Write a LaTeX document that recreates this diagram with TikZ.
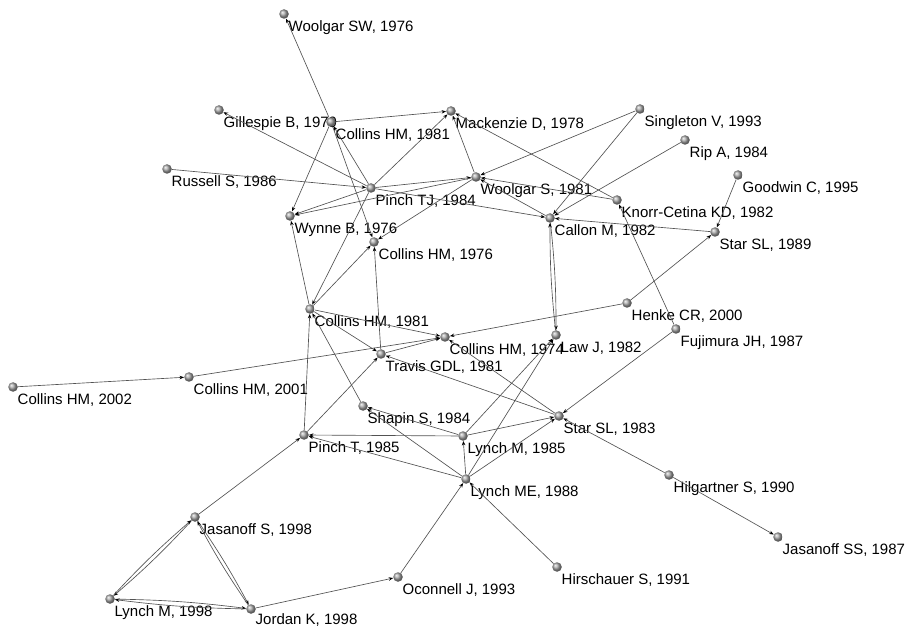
\documentclass[tikz,border=0pt]{standalone}
\usepackage{fontspec}
\setmainfont{Liberation Sans}
\usepackage{tikz}
\usetikzlibrary{
    arrows.meta
}

\begin{document}
\begin{tikzpicture}[x=1pt, y=-1pt,
        ball/.style={circle, inner sep=0pt, minimum size=9.5pt, shading=ball, ball color=gray!70},
        lbl/.style={anchor=north west, inner sep=0pt, xshift=1pt, yshift=-3pt,
                    font=\fontsize{15}{17}\selectfont},
        >={Stealth[length=4.5pt, width=3.5pt, black]},
        every edge/.style={draw=black!68, line width=0.65pt}]
                        \useasboundingbox (0, 0) rectangle (908, 628);

                        % upper part
                        \node[ball, label={[lbl]south east:Woolgar SW, 1976}] (wsw) at (284, 14) {};
                        \node[ball, label={[lbl]south east:Gillespie B, 1979}] (gil) at (219, 110) {};
                        \node[ball, label={[lbl]south east:Collins HM, 1981}] (c81a) at (331, 122) {};
                        \node[ball, label={[lbl]south east:Mackenzie D, 1978}] (mac) at (451, 111) {};
                        \node[ball, label={[lbl]south east:Russell S, 1986}] (rus) at (167, 169) {};
                        \node[ball, label={[lbl]south east:Pinch TJ, 1984}] (ptj) at (371, 188) {};
                        \node[ball, label={[lbl]south east:Wynne B, 1976}] (wyn) at (290, 216) {};
                        \node[ball, label={[lbl]south east:Woolgar S, 1981}] (ws) at (476, 177) {};
                        \node[ball, label={[lbl]south east:Singleton V, 1993}] (sin) at (640, 109) {};
                        \node[ball, label={[lbl]south east:Rip A, 1984}] (rip) at (685, 140) {};
                        \node[ball, label={[lbl]south east:Goodwin C, 1995}] (goo) at (738, 175) {};
                        \node[ball, label={[lbl]south east:Knorr-Cetina KD, 1982}] (kno) at (617, 200) {};
                        \node[ball, label={[lbl]south east:Callon M, 1982}] (cal) at (550, 218) {};
                        \node[ball, label={[lbl]south east:Star SL, 1989}] (s89) at (715, 232) {};
                        \node[ball, label={[lbl]south east:Collins HM, 1976}] (c76) at (374, 242) {};

                        % middle part
                        \node[ball, label={[lbl]south east:Collins HM, 1981}] (c81b) at (310, 309) {};
                        \node[ball, label={[lbl]south east:Henke CR, 2000}] (hen) at (627, 303) {};
                        \node[ball, label={[lbl]south east:Fujimura JH, 1987}] (fuj) at (676, 329) {};
                        \node[ball, label={[lbl]south east:Collins HM, 1974}] (c74) at (445, 337) {};
                        \node[ball, label={[lbl]south east:Law J, 1982}] (law) at (556, 335) {};
                        \node[ball, label={[lbl]south east:Travis GDL, 1981}] (tra) at (381, 354) {};
                        \node[ball, label={[lbl]south east:Collins HM, 2001}] (c01) at (189, 377) {};
                        \node[ball, label={[lbl]south east:Collins HM, 2002}] (c02) at (13, 387) {};
                        \node[ball, label={[lbl]south east:Shapin S, 1984}] (sha) at (363, 406) {};
                        \node[ball, label={[lbl]south east:Star SL, 1983}] (s83) at (559, 416) {};
                        \node[ball, label={[lbl]south east:Pinch T, 1985}] (pt) at (304, 435) {};
                        \node[ball, label={[lbl]south east:Lynch M, 1985}] (lm85) at (463, 436) {};
                        \node[ball, label={[lbl]south east:Lynch ME, 1988}] (lme) at (466, 479) {};
                        \node[ball, label={[lbl]south east:Hilgartner S, 1990}] (hil) at (669, 475) {};
                        \node[ball, label={[lbl]south east:Jasanoff SS, 1987}] (jss) at (778, 537) {};

                        % lower part
                        \node[ball, label={[lbl]south east:Jasanoff S, 1998}] (js) at (195, 517) {};
                        \node[ball, label={[lbl]south east:Hirschauer S, 1991}] (hir) at (557, 567) {};
                        \node[ball, label={[lbl]south east:Oconnell J, 1993}] (oco) at (398, 577) {};
                        \node[ball, label={[lbl]south east:Lynch M, 1998}] (lm98) at (110, 599) {};
                        \node[ball, label={[lbl, yshift=2pt]south east:Jordan K, 1998}] (jor) at (251, 609) {};

                        \draw
                        (c81a) edge[->] (wsw)
                        (c81a) edge[->] (c76)
                        (c81a) edge[->] (mac)
                        (c81a) edge[->] (wyn)
                        (ptj) edge[->] (c81a)
                        (ptj) edge[->] (gil)
                        (rus) edge[->] (ptj)
                        (ptj) edge[->] (mac)
                        (ptj) edge[->] (wyn)
                        (ptj) edge[->] (ws)
                        (ptj) edge[->] (cal)
                        (ptj) edge[->] (c81b)
                        (ws) edge[->] (wyn)
                        (ws) edge[->] (mac)
                        (ws) edge[->] (c76)
                        (sin) edge[->] (ws)
                        (sin) edge[->] (cal)
                        (rip) edge[->] (cal)
                        (cal) edge[->] (ws)
                        (kno) edge[->] (mac)
                        (kno) edge[->] (ws)
                        (fuj) edge[->] (kno)
                        (s89) edge[->] (cal)
                        (goo) edge[->] (s89)
                        (hen) edge[->] (s89)
                        (hen) edge[->] (c74)
                        (cal) edge[->, bend left=3] (law)
                        (law) edge[->, bend left=3] (cal);

                        \draw
                        (c81b) edge[->] (wyn)
                        (c81b) edge[->] (c76)
                        (c81b) edge[->] (c74)
                        (c81b) edge[->] (tra)
                        (tra) edge[->] (c76)
                        (tra) edge[->] (c74)
                        (c01) edge[->] (c74)
                        (c02) edge[->] (c01)
                        (sha) edge[->] (c81b)
                        (pt) edge[->] (c81b)
                        (pt) edge[->] (tra)
                        (s83) edge[->] (c74)
                        (s83) edge[->] (tra)
                        (fuj) edge[->] (s83)
                        (hil) edge[->] (s83)
                        (hil) edge[->] (jss)
                        (lm85) edge[->] (pt)
                        (lm85) edge[->] (sha)
                        (lm85) edge[->] (s83)
                        (lm85) edge[->] (law)
                        (lme) edge[->] (lm85)
                        (lme) edge[->] (pt)
                        (lme) edge[->] (sha)
                        (lme) edge[->] (s83)
                        (lme) edge[->] (law)
                        (hir) edge[->] (lme)
                        (oco) edge[->] (lme);

                        \draw
                        (jor) edge[->] (oco)
                        (js) edge[->] (pt)
                        (js) edge[->, bend left=3] (lm98)
                        (lm98) edge[->, bend left=3] (js)
                        (js) edge[->, bend left=3] (jor)
                        (jor) edge[->, bend left=3] (js)
                        (lm98) edge[->, bend left=3] (jor)
                        (jor) edge[->, bend left=3] (lm98);
                    \end{tikzpicture}
\end{document}
